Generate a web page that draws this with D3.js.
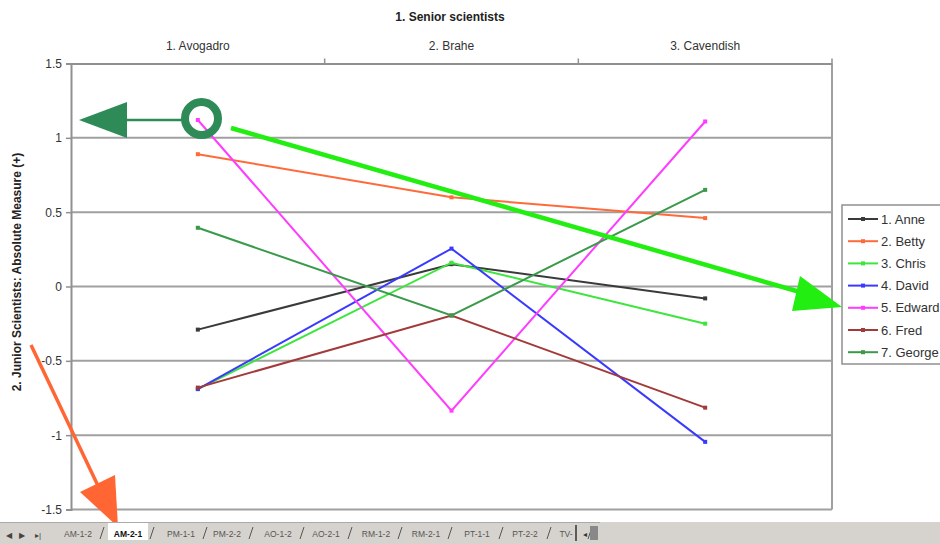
<!DOCTYPE html>
<html><head><meta charset="utf-8">
<script src="https://cdn.jsdelivr.net/npm/d3@7"></script>
<style>body{margin:0;background:#fff;}svg{display:block;font-family:"Liberation Sans",Arial,sans-serif;}</style>
</head><body><svg id="c" width="940" height="544"></svg>
<script>
const categories = ["1. Avogadro", "2. Brahe", "3. Cavendish"];
const seriesNames = ["1. Anne", "2. Betty", "3. Chris", "4. David", "5. Edward", "6. Fred", "7. George"];
const anne   = [-0.29, 0.15, -0.08];
const betty  = [0.89, 0.60, 0.46];
const chris  = [-0.69, 0.16, -0.25];
const david  = [-0.69, 0.255, -1.045];
const edward = [1.12, -0.835, 1.11];
const fred   = [-0.68, -0.195, -0.815];
const george = [0.395, -0.195, 0.65];
const seriesColors = ["#3a3a3a", "#ff6a3a", "#3ce63c", "#3a3aff", "#ff3cff", "#a33a3a", "#3a9a4a"];
const yTicks = [1.5, 1, 0.5, 0, -0.5, -1, -1.5];
const tabLabels = ["AM-1-2", "AM-2-1", "PM-1-1", "PM-2-2", "AO-1-2", "AO-2-1", "RM-1-2", "RM-2-1", "PT-1-1", "PT-2-2", "TV-"];
const title = "1. Senior scientists";
const yTitle = "2. Junior Scientists: Absolute Measure (+)";

const allSeries = [anne, betty, chris, david, edward, fred, george];
const svg = d3.select("#c");
const L = 71, R = 832, T = 63.5, B = 509.5;
const x = d3.scaleBand().domain(categories).range([L, R]);
const y = d3.scaleLinear().domain([-1.5, 1.5]).range([B, T]);
const cx = c => x(c) + x.bandwidth() / 2;

// gridlines
svg.append("g").selectAll("line").data(yTicks.filter(v => v < 1.5)).join("line")
  .attr("x1", L).attr("x2", R).attr("y1", d => y(d)).attr("y2", d => y(d))
  .attr("stroke", "#a0a0a0").attr("stroke-width", 2);
// right border
svg.append("line").attr("x1", R).attr("x2", R).attr("y1", T).attr("y2", B).attr("stroke", "#a0a0a0").attr("stroke-width", 2);

// y axis
const yAxis = svg.append("g").attr("transform", `translate(${L},0)`)
  .call(d3.axisLeft(y).tickValues(yTicks).tickSize(5).tickPadding(4).tickFormat(d => String(d)));
yAxis.select(".domain").attr("stroke", "#909090").attr("stroke-width", 2);
yAxis.selectAll(".tick line").attr("stroke", "#909090").attr("stroke-width", 1.5);
yAxis.selectAll("text").attr("font-size", 12).attr("fill", "#333").attr("font-family", "Liberation Sans, Arial");

// top category axis
const xAxis = svg.append("g").attr("transform", `translate(0,${T})`)
  .call(d3.axisTop(x).tickSize(0).tickPadding(14));
xAxis.select(".domain").attr("stroke", "#909090").attr("stroke-width", 2);
xAxis.selectAll("text").attr("font-size", 12).attr("fill", "#333").attr("font-family", "Liberation Sans, Arial");
const bounds = [L + x.bandwidth(), L + 2 * x.bandwidth(), R];
svg.append("g").selectAll("line").data(bounds).join("line")
  .attr("x1", d => d).attr("x2", d => d).attr("y1", T - 5).attr("y2", T)
  .attr("stroke", "#909090").attr("stroke-width", 1.5);

// title
svg.append("text").attr("x", 450).attr("y", 21).attr("text-anchor", "middle")
  .attr("font-size", 12).attr("font-weight", "bold").attr("fill", "#222").text(title);
svg.append("text").attr("transform", "translate(21,272) rotate(-90)").attr("text-anchor", "middle")
  .attr("font-size", 12).attr("font-weight", "bold").attr("fill", "#222").text(yTitle);

// series lines
const line = d3.line().x((d, i) => cx(categories[i])).y(d => y(d));
allSeries.forEach((s, k) => {
  svg.append("path").datum(s).attr("d", line).attr("fill", "none")
    .attr("stroke", seriesColors[k]).attr("stroke-width", 2);
  svg.append("g").selectAll("rect").data(s).join("rect")
    .attr("x", (d, i) => cx(categories[i]) - 2).attr("y", d => y(d) - 2)
    .attr("width", 4).attr("height", 4).attr("fill", seriesColors[k]);
});

// legend
const lg = svg.append("g");
lg.append("rect").attr("x", 842).attr("y", 205).attr("width", 110).attr("height", 159)
  .attr("fill", "#fff").attr("stroke", "#909090").attr("stroke-width", 1.5);
seriesNames.forEach((n, k) => {
  const yy = 219 + k * 22.2;
  lg.append("line").attr("x1", 848).attr("x2", 878).attr("y1", yy).attr("y2", yy)
    .attr("stroke", seriesColors[k]).attr("stroke-width", 2);
  lg.append("rect").attr("x", 861).attr("y", yy - 2).attr("width", 4).attr("height", 4).attr("fill", seriesColors[k]);
  lg.append("text").attr("x", 881).attr("y", yy + 4.5).attr("font-size", 13).attr("fill", "#333").text(n);
});

// annotations
const darkG = "#2e8b57";
svg.append("line").attr("x1", 125).attr("x2", 184).attr("y1", 120).attr("y2", 120).attr("stroke", darkG).attr("stroke-width", 2.5);
svg.append("polygon").attr("points", "79,120 127,102 127,138").attr("fill", darkG);
svg.append("circle").attr("cx", 201.5).attr("cy", 118.5).attr("r", 16.5).attr("fill", "none").attr("stroke", darkG).attr("stroke-width", 8);

const brightG = "#22ee11";
svg.append("line").attr("x1", 231).attr("y1", 128).attr("x2", 800).attr("y2", 292).attr("stroke", brightG).attr("stroke-width", 4.5);
svg.append("polygon").attr("points", "842,307 800,276 792,311").attr("fill", brightG);

const orng = "#ff6633";
svg.append("line").attr("x1", 31).attr("y1", 345).attr("x2", 100).attr("y2", 490).attr("stroke", orng).attr("stroke-width", 3.5);
svg.append("polygon").attr("points", "118,527 80,492 115,475").attr("fill", orng);

// sheet tab bar
const tb = svg.append("g");
tb.append("rect").attr("x", 0).attr("y", 522).attr("width", 940).attr("height", 22).attr("fill", "#d6d3ce");
tb.append("line").attr("x1", 0).attr("x2", 600).attr("y1", 522.5).attr("y2", 522.5).attr("stroke", "#aaa");
[["◀", 9], ["▶", 22], ["▸|", 38]].forEach(([t, xx]) => {
  tb.append("text").attr("x", xx).attr("y", 538).attr("text-anchor", "middle").attr("font-size", 8).attr("fill", "#444").text(t);
});
const tabX = [78, 128, 181, 227, 278, 326, 376, 426, 477, 525, 566];
tabLabels.forEach((t, i) => {
  const active = i === 1;
  if (active) {
    tb.append("rect").attr("x", tabX[i] - 20).attr("y", 523).attr("width", 40).attr("height", 17).attr("fill", "#fff");
  }
  tb.append("text").attr("x", tabX[i]).attr("y", 537).attr("text-anchor", "middle")
    .attr("font-size", 8.5).attr("font-weight", active ? "bold" : "normal").attr("fill", active ? "#111" : "#555").text(t);
  tb.append("line").attr("x1", tabX[i] + 22).attr("x2", tabX[i] + 26).attr("y1", 539).attr("y2", 527).attr("stroke", "#555");
});
tb.append("line").attr("x1", 576).attr("x2", 576).attr("y1", 525).attr("y2", 541).attr("stroke", "#333").attr("stroke-width", 1.5);
tb.append("text").attr("x", 583).attr("y", 537).attr("font-size", 8).attr("fill", "#333").text("◂");
tb.append("rect").attr("x", 590).attr("y", 526).attr("width", 8).attr("height", 14).attr("fill", "#888");
</script></body></html>
